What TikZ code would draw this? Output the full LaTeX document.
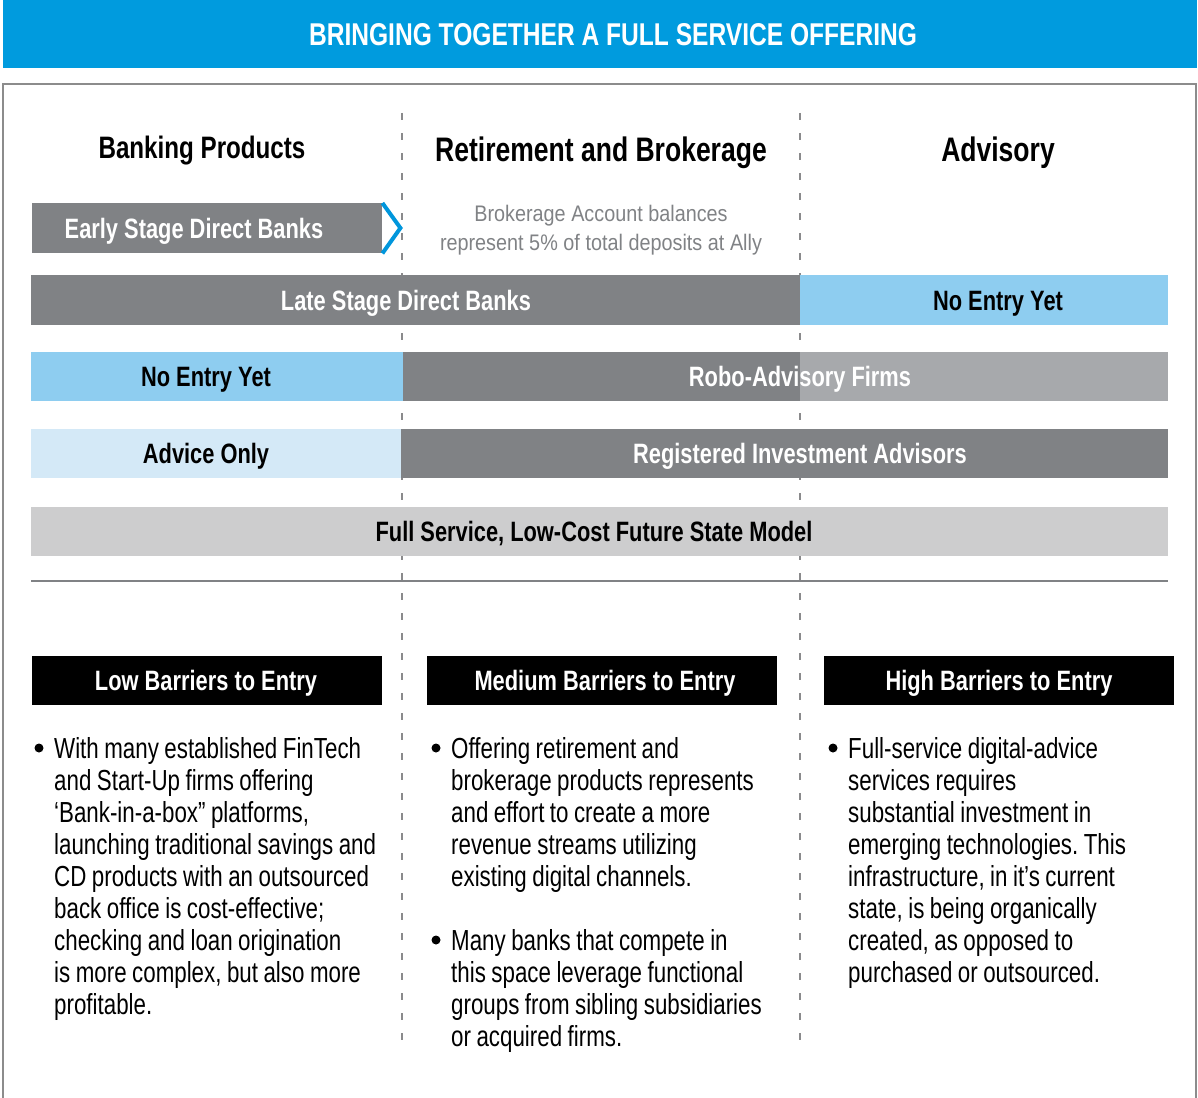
\documentclass[tikz,border=0pt]{standalone}
\usepackage{fontspec}
\setmainfont{Liberation Sans}[FakeStretch=0.78]
\newfontfamily\grayfont{Liberation Sans}[FakeStretch=0.88]
\newfontfamily\bodyfont{Liberation Sans}[FakeStretch=0.77]
\newcommand\bodyspace{\spaceskip=5.5pt plus 1pt minus 1pt\xspaceskip=5.5pt plus 1pt minus 1pt\relax}
\newcommand\grayspace{\spaceskip=5.6pt plus 1pt minus 1pt\xspaceskip=5.6pt plus 1pt minus 1pt\relax}
\definecolor{hdrblue}{RGB}{0,155,222}
\definecolor{chevblue}{RGB}{0,150,220}
\definecolor{dkgray}{RGB}{128,130,133}
\definecolor{mdgray}{RGB}{167,169,172}
\definecolor{ltgray}{RGB}{205,205,206}
\definecolor{ltblue}{RGB}{142,205,240}
\definecolor{paleblue}{RGB}{212,233,247}
\definecolor{framegray}{RGB}{140,140,140}
\definecolor{dashgray}{RGB}{138,138,140}
\definecolor{txtgray}{RGB}{128,130,133}
\tikzset{
  bar/.style={draw=none, inner sep=0pt, anchor=north west},
  barlabel/.style={anchor=base, inner sep=0pt, font=\bfseries\fontsize{28}{32}\selectfont},
  colhead/.style={anchor=base, inner sep=0pt, font=\bfseries\fontsize{34}{36}\selectfont},
  graytext/.style={anchor=base, inner sep=0pt, text=txtgray, font=\grayfont\fontsize{22.5}{29}\selectfont},
  bodytext/.style={anchor=base west, inner sep=0pt, text width=380pt, align=left, font=\bodyfont\fontsize{29}{32}\selectfont},
  bulletdot/.style={circle, fill=black, inner sep=0pt, minimum size=9pt},
  divider/.style={draw=dashgray, line width=2.5pt, dash pattern=on 7pt off 13pt},
}
\begin{document}
\begin{tikzpicture}[x=1pt,y=-1pt]
\useasboundingbox (0,0) rectangle (1198,1097);
% header
\node[bar, fill=hdrblue, minimum width=1194pt, minimum height=68pt] (hdr) at (3,0) {};
\node[anchor=base, inner sep=0pt, text=white, font=\bfseries\fontsize{31.5}{34}\selectfont] (title) at (613,46) {BRINGING TOGETHER A FULL SERVICE OFFERING};
% frame
\draw[framegray, line width=1.5pt] (3,1100) |- (1196,84) -- (1196,1100);
% dashed dividers
\coordinate (d1top) at (402,113);
\coordinate (d1bot) at (402,1048);
\coordinate (d2top) at (800,113);
\coordinate (d2bot) at (800,1048);
\draw[divider] (d1top) -- (d1bot);
\draw[divider] (d2top) -- (d2bot);
% column headers
\node[colhead, font=\bfseries\fontsize{31}{34}\selectfont] (hbank) at (202,158) {Banking Products};
\node[colhead] (hret) at (601,161) {Retirement and Brokerage};
\node[colhead] (hadv) at (998,161) {Advisory};
% row 1
\node[bar, fill=dkgray, minimum width=350pt, minimum height=50pt] (early) at (32,203) {};
\node[barlabel, text=white] (earlyt) at (194,238) {Early Stage Direct Banks};
\draw[chevblue, line width=4pt, line join=miter] (early.north east) -- ++(18,25) -- (early.south east);
\node[graytext] (broker1) at (601,221) {\grayspace Brokerage Account balances};
\node[graytext] (broker2) at (601,250) {\grayspace represent 5\% of total deposits at Ally};
% row 2
\node[bar, fill=dkgray, minimum width=769pt, minimum height=50pt] (late) at (31,275) {};
\node[barlabel, text=white] (latet) at (406,310) {Late Stage Direct Banks};
\node[bar, fill=ltblue, minimum width=368pt, minimum height=50pt] (noentry1) at (800,275) {};
\node[barlabel, text=black] (noentry1t) at (998,310) {No Entry Yet};
% row 3
\node[bar, fill=ltblue, minimum width=372pt, minimum height=49pt] (noentry2) at (31,352) {};
\node[barlabel, text=black] (noentry2t) at (206,386.5) {No Entry Yet};
\node[bar, fill=dkgray, minimum width=397pt, minimum height=49pt] (roboA) at (403,352) {};
\node[bar, fill=mdgray, minimum width=368pt, minimum height=49pt] (roboB) at (800,352) {};
\node[barlabel, text=white] (robot) at (800,386.5) {Robo-Advisory Firms};
% row 4
\node[bar, fill=paleblue, minimum width=370pt, minimum height=49pt] (advice) at (31,429) {};
\node[barlabel, text=black] (advicet) at (206,463.5) {Advice Only};
\node[bar, fill=dkgray, minimum width=767pt, minimum height=49pt] (ria) at (401,429) {};
\node[barlabel, text=white] (riat) at (800,463.5) {Registered Investment Advisors};
% row 5
\node[bar, fill=ltgray, minimum width=1137pt, minimum height=49pt] (full) at (31,507) {};
\node[barlabel, text=black] (fullt) at (594,541.5) {Full Service, Low-Cost Future State Model};
% rule
\coordinate (ruleL) at (31,581);
\coordinate (ruleR) at (1168,581);
\draw[dkgray, line width=2.5pt] (ruleL) -- (ruleR);
% barrier boxes
\node[bar, fill=black, minimum width=350pt, minimum height=49pt] (low) at (32,656) {};
\node[barlabel, text=white] (lowt) at (206,690.5) {Low Barriers to Entry};
\node[bar, fill=black, minimum width=350pt, minimum height=49pt] (med) at (427,656) {};
\node[barlabel, text=white] (medt) at (605,690.5) {Medium Barriers to Entry};
\node[bar, fill=black, minimum width=350pt, minimum height=49pt] (high) at (824,656) {};
\node[barlabel, text=white] (hight) at (999,690.5) {High Barriers to Entry};
% bullets
\node[bulletdot] (b1) at (39,748) {};
\node[bodytext] (t1) at (54,758.4) {\bodyspace With many established FinTech\\and Start-Up firms offering\\‘Bank-in-a-box” platforms,\\launching traditional savings and\\CD products with an outsourced\\back office is cost-effective;\\checking and loan origination\\is more complex, but also more\\profitable.};
\node[bulletdot] (b2) at (436,748) {};
\node[bodytext] (t2) at (451,758.4) {\bodyspace Offering retirement and\\brokerage products represents\\and effort to create a more\\revenue streams utilizing\\existing digital channels.};
\node[bulletdot] (b3) at (436,940) {};
\node[bodytext] (t3) at (451,950.4) {\bodyspace Many banks that compete in\\this space leverage functional\\groups from sibling subsidiaries\\or acquired firms.};
\node[bulletdot] (b4) at (833,748) {};
\node[bodytext] (t4) at (848,758.4) {\bodyspace Full-service digital-advice\\services requires\\substantial investment in\\emerging technologies. This\\infrastructure, in it’s current\\state, is being organically\\created, as opposed to\\purchased or outsourced.};
\end{tikzpicture}
\end{document}
